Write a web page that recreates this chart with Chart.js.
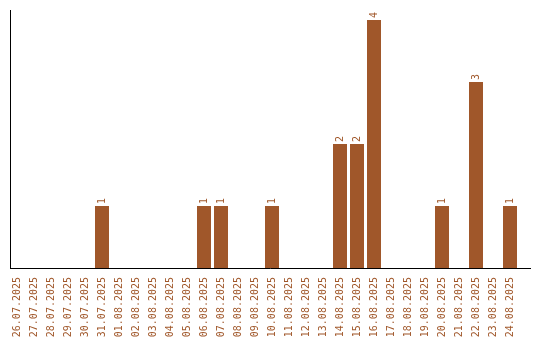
<!DOCTYPE html>
<html>
<head>
<meta charset="utf-8">
<script src="https://cdn.jsdelivr.net/npm/chart.js@4"></script>
<style>
    html, body { margin: 0; padding: 0; background: #fff; }
    #wrap { width: 540px; height: 340px; }
</style>
</head>
<body>
<div id="wrap"><canvas id="barChart"></canvas></div>
<script>
const labels = [
    "26.07.2025", "27.07.2025", "28.07.2025", "29.07.2025", "30.07.2025",
    "31.07.2025", "01.08.2025", "02.08.2025", "03.08.2025", "04.08.2025",
    "05.08.2025", "06.08.2025", "07.08.2025", "08.08.2025", "09.08.2025",
    "10.08.2025", "11.08.2025", "12.08.2025", "13.08.2025", "14.08.2025",
    "15.08.2025", "16.08.2025", "17.08.2025", "18.08.2025", "19.08.2025",
    "20.08.2025", "21.08.2025", "22.08.2025", "23.08.2025", "24.08.2025",
];
const counts = [
    0, 0, 0, 0, 0,
    1, 0, 0, 0, 0,
    0, 1, 1, 0, 0,
    1, 0, 0, 0, 2,
    2, 4, 0, 0, 0,
    1, 0, 3, 0, 1,
];

const brown = "#a0572a";
const monoFont = "'DejaVu Sans Mono', 'Liberation Mono', monospace";

// value labels above the bars, rotated like the date ticks
const valueLabels = {
    id: "valueLabels",
    afterDatasetsDraw(chart) {
        const ctx = chart.ctx;
        const meta = chart.getDatasetMeta(0);
        ctx.save();
        ctx.fillStyle = brown;
        ctx.font = "10px " + monoFont;
        ctx.textAlign = "left";
        ctx.textBaseline = "middle";
        meta.data.forEach((bar, i) => {
            if (!counts[i]) return;
            ctx.save();
            ctx.translate(bar.x, bar.y - 2);
            ctx.rotate(-Math.PI / 2);
            ctx.fillText(String(counts[i]), 0, 0);
            ctx.restore();
        });
        ctx.restore();
    },
};

// plain black axis lines
const axisLines = {
    id: "axisLines",
    afterDraw(chart) {
        const { ctx, chartArea } = chart;
        ctx.save();
        ctx.strokeStyle = "#000";
        ctx.lineWidth = 1;
        ctx.beginPath();
        ctx.moveTo(chartArea.left + 2, chartArea.top);
        ctx.lineTo(chartArea.left + 2, chartArea.bottom + 1);
        ctx.moveTo(chartArea.left + 2, chartArea.bottom + 0.5);
        ctx.lineTo(chartArea.right + 12.5, chartArea.bottom + 0.5);
        ctx.stroke();
        ctx.restore();
    },
};

const data = {
    labels: labels,
    datasets: [
        {
            data: counts,
            backgroundColor: "#a0572a",
            borderWidth: 0,
            barPercentage: 14 / 17,
            categoryPercentage: 1,
        },
    ],
};

const config = {
    type: "bar",
    data: data,
    plugins: [valueLabels, axisLines],
    options: {
        responsive: true,
        maintainAspectRatio: false,
        animation: false,
        layout: {
            padding: { left: 8.5, right: 21.5, top: 10, bottom: 0 },
        },
        plugins: {
            legend: { display: false },
            tooltip: { enabled: false },
        },
        scales: {
            x: {
                grid: { display: false, drawTicks: false },
                border: { display: false },
                afterFit(scale) {
                    scale.height = 72;
                },
                ticks: {
                    autoSkip: false,
                    minRotation: 90,
                    maxRotation: 90,
                    padding: 9,
                    color: brown,
                    font: { family: monoFont, size: 10 },
                },
            },
            y: {
                display: false,
                min: 0,
                max: 4.16,
            },
        },
    },
};

new Chart(document.getElementById("barChart"), config);
</script>
</body>
</html>
